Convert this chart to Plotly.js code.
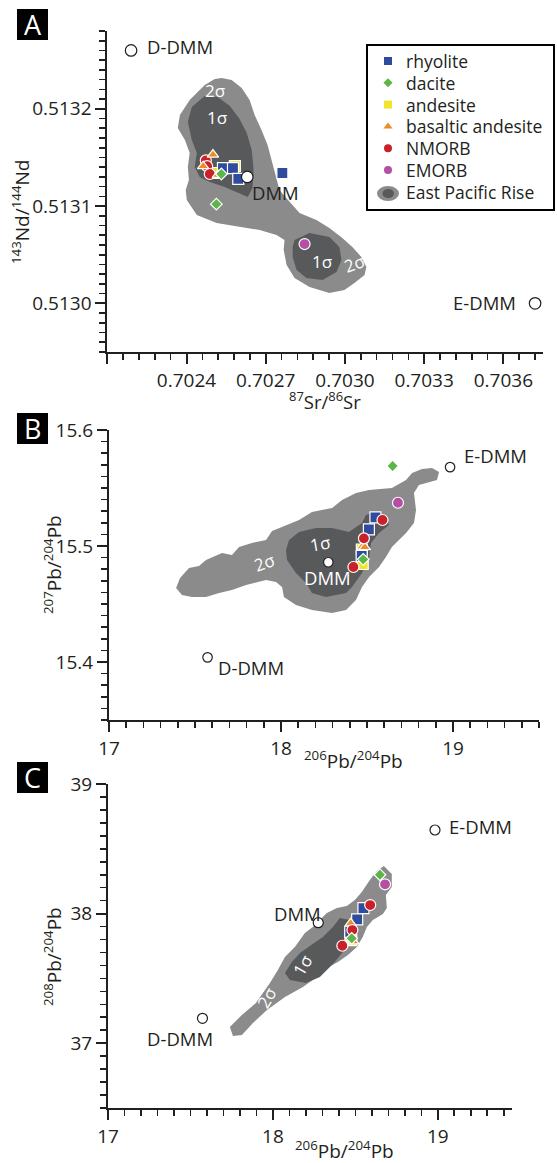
<!DOCTYPE html>
<html>
<head>
<meta charset="utf-8">
<script src="https://cdn.plot.ly/plotly-3.0.1.min.js"></script>
<style>
html, body { margin: 0; padding: 0; background: #fff; }
#chart { width: 557px; height: 1163px; }
</style>
</head>
<body>
<div id="chart"></div>
<script>
// ---------- sample groups ----------
const groups = ['rhyolite', 'dacite', 'andesite', 'basaltic andesite', 'NMORB', 'EMORB'];
const groupColors = ['#2f4b9d', '#5cb547', '#f0e52e', '#f08a22', '#c9202a', '#b44fa3'];
const groupSymbols = ['square', 'diamond', 'square', 'triangle-up', 'circle', 'circle'];
const groupSizes = [11, 9, 11, 10, 11, 11];

// 87Sr/86Sr and 143Nd/144Nd
const srRhyolite = [0.702763, 0.702538, 0.702576, 0.702596];
const ndRhyolite = [0.513134, 0.513139, 0.513139, 0.513128];
const srDacite = [0.702513, 0.702532];
const ndDacite = [0.513102, 0.513133];
const srAndesite = [0.702583, 0.702500];
const ndAndesite = [0.513141, 0.513134];
const srBasAndesite = [0.702500, 0.702463, 0.702519];
const ndBasAndesite = [0.513153, 0.513141, 0.513132];
const srNmorb = [0.702473, 0.702478, 0.702488];
const ndNmorb = [0.513147, 0.513141, 0.513133];
const srEmorb = [0.702847];
const ndEmorb = [0.513061];

// Pb isotopes (206Pb/204Pb, 207Pb/204Pb, 208Pb/204Pb)
const pb206Rhyolite = [18.549, 18.511, 18.469];
const pb207Rhyolite = [15.5247, 15.5144, 15.4914];
const pb208Rhyolite = [38.043, 37.956, 37.860];
const pb206Dacite = [18.649, 18.478];
const pb207Dacite = [15.569, 15.4885];
const pb208Dacite = [38.300, 37.809];
const pb206Andesite = [18.475, 18.470];
const pb207Andesite = [15.4845, 15.4970];
const pb208Andesite = [37.796, 37.830];
const pb206BasAndesite = [18.472, 18.487];
const pb207BasAndesite = [15.4994, 15.4990];
const pb208BasAndesite = [37.925, 37.785];
const pb206Nmorb = [18.590, 18.482, 18.421];
const pb207Nmorb = [15.5224, 15.5066, 15.4819];
const pb208Nmorb = [38.066, 37.873, 37.752];
const pb206Emorb = [18.680];
const pb207Emorb = [15.5373];
const pb208Emorb = [38.226];

// mantle end-members
const endMembers = ['D-DMM', 'DMM', 'E-DMM'];
const srEnd = [0.70219, 0.70263, 0.70372];
const ndEnd = [0.51326, 0.51313, 0.51300];
const pb206End = [17.573, 18.275, 18.983];
const pb207End = [15.404, 15.486, 15.568];
const pb208End = [37.192, 37.930, 38.645];

// East Pacific Rise MORB fields (2 sigma outer, 1 sigma inner)
const eprSrOuter = [0.702507, 0.702533, 0.702571, 0.702609, 0.702639, 0.702658, 0.702684, 0.702707, 0.702722, 0.702737, 0.702752, 0.702768, 0.702828, 0.702892, 0.702941, 0.70299, 0.703028, 0.703062, 0.703081, 0.703074, 0.703036, 0.702998, 0.702941, 0.702866, 0.702809, 0.702779, 0.702768, 0.702771, 0.702741, 0.702677, 0.702601, 0.702514, 0.702439, 0.702401, 0.702397, 0.702409, 0.702405, 0.702412, 0.702394, 0.702367, 0.702375, 0.702412, 0.702469];
const eprNdOuter = [0.5132307, 0.5132317, 0.5132296, 0.5132214, 0.5132091, 0.5131936, 0.5131782, 0.5131628, 0.5131474, 0.513132, 0.5131165, 0.5131114, 0.5130929, 0.5130857, 0.5130775, 0.5130672, 0.513058, 0.5130477, 0.5130374, 0.5130292, 0.5130209, 0.5130137, 0.5130107, 0.5130168, 0.5130261, 0.5130394, 0.5130549, 0.5130651, 0.5130703, 0.5130754, 0.5130785, 0.5130826, 0.5130908, 0.5131063, 0.5131165, 0.5131268, 0.5131402, 0.5131546, 0.5131679, 0.5131803, 0.5131936, 0.5132091, 0.5132245];
const eprSrInner1 = [0.702469, 0.702518, 0.702564, 0.702601, 0.702628, 0.702647, 0.702654, 0.70265, 0.702632, 0.702594, 0.702545, 0.702488, 0.70245, 0.702431, 0.702439, 0.70242, 0.702405, 0.70242];
const eprNdInner1 = [0.5132132, 0.5132122, 0.5132029, 0.5131895, 0.5131751, 0.5131577, 0.5131371, 0.5131186, 0.5131094, 0.5131135, 0.5131196, 0.5131248, 0.5131299, 0.5131402, 0.5131546, 0.5131679, 0.5131865, 0.5132019];
const eprSrInner2 = [0.702809, 0.702866, 0.702941, 0.702979, 0.702987, 0.702968, 0.702915, 0.702854, 0.702817, 0.702802, 0.702802];
const eprNdInner2 = [0.5130651, 0.5130723, 0.5130682, 0.513058, 0.5130446, 0.5130323, 0.513024, 0.5130261, 0.5130343, 0.5130477, 0.513058];

const eprPb206OuterB = [17.390, 17.413, 17.465, 17.523, 17.564, 17.657, 17.715, 17.756, 17.831, 17.913, 17.948, 18.029, 18.105, 18.180, 18.297, 18.355, 18.436, 18.512, 18.645, 18.727, 18.762, 18.820, 18.878, 18.919, 18.907, 18.802, 18.773, 18.785, 18.773, 18.727, 18.645, 18.610, 18.570, 18.512, 18.471, 18.436, 18.378, 18.297, 18.180, 18.087, 18.017, 18.006, 17.971, 17.913, 17.797, 17.715, 17.640, 17.564, 17.483, 17.424];
const eprPb207OuterB = [15.4638, 15.4724, 15.4810, 15.4828, 15.4879, 15.4940, 15.4922, 15.4991, 15.5026, 15.5052, 15.5129, 15.5181, 15.5224, 15.5293, 15.5328, 15.5397, 15.5457, 15.5483, 15.5500, 15.5569, 15.5629, 15.5664, 15.5672, 15.5638, 15.5569, 15.5526, 15.5457, 15.5310, 15.5198, 15.5112, 15.4991, 15.4905, 15.4819, 15.4733, 15.4647, 15.4534, 15.4448, 15.4422, 15.4448, 15.4491, 15.4560, 15.4647, 15.4690, 15.4707, 15.4664, 15.4621, 15.4595, 15.4560, 15.4560, 15.4578];
const eprPb206InnerB = [18.047, 18.105, 18.203, 18.297, 18.395, 18.471, 18.494, 18.552, 18.610, 18.628, 18.570, 18.523, 18.512, 18.471, 18.413, 18.378, 18.262, 18.180, 18.145, 18.087, 18.035, 18.029];
const eprPb207InnerB = [15.5052, 15.5121, 15.5155, 15.5155, 15.5121, 15.5198, 15.5267, 15.5293, 15.5267, 15.5181, 15.5112, 15.5026, 15.4905, 15.4767, 15.4647, 15.4595, 15.4560, 15.4595, 15.4681, 15.4767, 15.4879, 15.4966];

const eprPb206OuterC = [18.673, 18.721, 18.721, 18.685, 18.691, 18.667, 18.606, 18.570, 18.545, 18.509, 18.455, 18.394, 18.327, 18.267, 18.182, 18.073, 17.964, 17.879, 17.812, 17.758, 17.739, 17.812, 17.897, 17.982, 18.030, 18.073, 18.133, 18.194, 18.242, 18.327, 18.388, 18.448, 18.497, 18.539, 18.588, 18.630];
const eprPb208OuterC = [38.367, 38.306, 38.205, 38.144, 38.043, 37.997, 37.951, 37.897, 37.819, 37.742, 37.681, 37.627, 37.580, 37.511, 37.434, 37.357, 37.256, 37.156, 37.063, 37.056, 37.125, 37.218, 37.310, 37.465, 37.565, 37.665, 37.742, 37.850, 37.897, 38.005, 38.043, 38.059, 38.105, 38.167, 38.259, 38.329];
const eprPb206InnerC = [18.406, 18.467, 18.479, 18.448, 18.424, 18.370, 18.285, 18.200, 18.103, 18.073, 18.115, 18.164, 18.224, 18.303, 18.364];
const eprPb208InnerC = [37.966, 37.951, 37.835, 37.742, 37.704, 37.619, 37.511, 37.465, 37.488, 37.542, 37.627, 37.696, 37.750, 37.819, 37.897];

// ---------- drawing ----------
const W = 557, H = 1163;
const fx = p => p / W;
const fy = p => 1 - p / H;
const INK = '#231f20';
const GREY2 = '#8b8b8b';
const GREY1 = '#58595b';

const traces = [];

function field(x, y, xa, ya, color) {
  traces.push({
    type: 'scatter', mode: 'lines', x: x, y: y, xaxis: xa, yaxis: ya,
    fill: 'toself', fillcolor: color, line: { width: 0, color: color },
    showlegend: false, hoverinfo: 'skip'
  });
}

function samples(x, y, xa, ya, gi) {
  traces.push({
    type: 'scatter', mode: 'markers', x: x, y: y, xaxis: xa, yaxis: ya,
    name: groups[gi], showlegend: false, hoverinfo: 'skip',
    marker: { symbol: groupSymbols[gi], color: groupColors[gi], size: groupSizes[gi],
              line: { color: '#ffffff', width: 1.2 } }
  });
}

function ends(x, y, xa, ya, size) {
  traces.push({
    type: 'scatter', mode: 'markers', x: x, y: y, xaxis: xa, yaxis: ya,
    showlegend: false, hoverinfo: 'skip',
    marker: { symbol: 'circle', color: '#ffffff', size: size, line: { color: INK, width: 1.2 } }
  });
}

// Panel A
field(eprSrOuter, eprNdOuter, 'x', 'y', GREY2);
field(eprSrInner1, eprNdInner1, 'x', 'y', GREY1);
field(eprSrInner2, eprNdInner2, 'x', 'y', GREY1);
samples(srAndesite, ndAndesite, 'x', 'y', 2);
samples(srRhyolite, ndRhyolite, 'x', 'y', 0);
samples(srNmorb, ndNmorb, 'x', 'y', 4);
samples(srBasAndesite, ndBasAndesite, 'x', 'y', 3);
samples(srDacite, ndDacite, 'x', 'y', 1);
samples(srEmorb, ndEmorb, 'x', 'y', 5);
ends(srEnd, ndEnd, 'x', 'y', 11.5);

// Panel B
field(eprPb206OuterB, eprPb207OuterB, 'x2', 'y2', GREY2);
field(eprPb206InnerB, eprPb207InnerB, 'x2', 'y2', GREY1);
samples(pb206Andesite, pb207Andesite, 'x2', 'y2', 2);
samples(pb206Rhyolite, pb207Rhyolite, 'x2', 'y2', 0);
samples(pb206BasAndesite, pb207BasAndesite, 'x2', 'y2', 3);
samples(pb206Nmorb, pb207Nmorb, 'x2', 'y2', 4);
samples(pb206Dacite, pb207Dacite, 'x2', 'y2', 1);
samples(pb206Emorb, pb207Emorb, 'x2', 'y2', 5);
ends(pb206End, pb207End, 'x2', 'y2', 9.5);

// Panel C
field(eprPb206OuterC, eprPb208OuterC, 'x3', 'y3', GREY2);
field(eprPb206InnerC, eprPb208InnerC, 'x3', 'y3', GREY1);
samples(pb206Andesite, pb208Andesite, 'x3', 'y3', 2);
samples(pb206Rhyolite, pb208Rhyolite, 'x3', 'y3', 0);
samples(pb206BasAndesite, pb208BasAndesite, 'x3', 'y3', 3);
samples(pb206Nmorb, pb208Nmorb, 'x3', 'y3', 4);
samples(pb206Dacite, pb208Dacite, 'x3', 'y3', 1);
samples(pb206Emorb, pb208Emorb, 'x3', 'y3', 5);
ends(pb206End, pb208End, 'x3', 'y3', 10);

// Legend keys, drawn on a pixel-scaled overlay axis pair
const legendKeyX = 388, legendRow0 = 61, legendRowGap = 21.8, legendTextX = 404;
groups.forEach((g, i) => {
  traces.push({
    type: 'scatter', mode: 'markers', x: [legendKeyX], y: [legendRow0 + i * legendRowGap],
    xaxis: 'x4', yaxis: 'y4', showlegend: false, hoverinfo: 'skip', cliponaxis: false,
    marker: { symbol: groupSymbols[i], color: groupColors[i], size: groupSymbols[i] === 'diamond' ? 7 : 8, line: { width: 0 } }
  });
});

function axis(domain, range, tickvals, ticktext, minorTick0, minorDtick, anchor) {
  return {
    domain: domain, range: range, anchor: anchor, autorange: false, fixedrange: true,
    showline: true, linecolor: INK, linewidth: 2, mirror: false,
    showgrid: false, zeroline: false,
    ticks: 'outside', ticklen: 10, tickwidth: 2, tickcolor: INK,
    tickvals: tickvals, ticktext: ticktext,
    tickfont: { family: 'Open Sans', size: 19, color: INK },
    minor: { ticks: 'outside', ticklen: 6, tickwidth: 1.6, tickcolor: INK,
             tick0: minorTick0, dtick: minorDtick, showgrid: false }
  };
}

const layout = {
  width: W, height: H,
  margin: { l: 0, r: 0, t: 0, b: 0, pad: 0 },
  paper_bgcolor: '#ffffff', plot_bgcolor: 'rgba(0,0,0,0)',
  font: { family: 'Open Sans', color: INK },
  showlegend: false,
  xaxis: axis([fx(107.3), fx(543)], [0.7021, 0.70375],
    [0.7021, 0.7024, 0.7027, 0.7030, 0.7033, 0.7036], ['', '0.7024', '0.7027', '0.7030', '0.7033', '0.7036'],
    0.7021, 0.00006, 'y'),
  yaxis: axis([fy(352), fy(31)], [0.51295, 0.51328],
    [0.5130, 0.5131, 0.5132], ['0.5130', '0.5131', '0.5132'], 0.5130, 0.00001, 'x'),
  xaxis2: axis([fx(109), fx(539)], [17, 19.5], [17, 18, 19], ['17', '18', '19'], 17, 0.1, 'y2'),
  yaxis2: axis([fy(720), fy(430)], [15.35, 15.6], [15.4, 15.5, 15.6], ['15.4', '15.5', '15.6'], 15.35, 0.01, 'x2'),
  xaxis3: axis([fx(108), fx(512)], [17, 19.45], [17, 18, 19], ['17', '18', '19'], 17, 0.1, 'y3'),
  yaxis3: axis([fy(1108), fy(784)], [36.5, 39], [37, 38, 39], ['37', '38', '39'], 36.5, 0.1, 'x3'),
  xaxis4: { domain: [0, 1], range: [0, W], visible: false, fixedrange: true, anchor: 'y4' },
  yaxis4: { domain: [0, 1], range: [H, 0], visible: false, fixedrange: true, anchor: 'x4' },
  shapes: [],
  annotations: []
};

// panel letters
[['A', 9], ['B', 413], ['C', 762]].forEach(([t, top]) => {
  layout.shapes.push({ type: 'rect', xref: 'paper', yref: 'paper', x0: fx(17), x1: fx(48), y0: fy(top + 31), y1: fy(top),
                       fillcolor: '#000000', line: { width: 0 } });
  layout.annotations.push({ text: t, xref: 'paper', yref: 'paper', x: fx(32.5), y: fy(top + 15.5),
                            xanchor: 'center', yanchor: 'middle', showarrow: false,
                            font: { size: 27, color: '#ffffff', family: 'Open Sans' } });
});

// legend frame and East Pacific Rise key
layout.shapes.push({ type: 'rect', xref: 'paper', yref: 'paper', x0: fx(367), x1: fx(554), y0: fy(210), y1: fy(45),
                     fillcolor: 'rgba(255,255,255,0)', line: { color: '#000000', width: 2 } });
layout.shapes.push({ type: 'circle', xref: 'x4', yref: 'y4', x0: 377, x1: 399, y0: 186, y1: 201,
                     fillcolor: GREY2, line: { width: 0 } });
layout.shapes.push({ type: 'circle', xref: 'x4', yref: 'y4', x0: 382.5, x1: 394, y0: 189, y1: 198,
                     fillcolor: GREY1, line: { width: 0 } });

function note(text, x, y, opt) {
  opt = opt || {};
  layout.annotations.push({
    text: text, xref: 'paper', yref: 'paper', x: fx(x), y: fy(y), showarrow: false,
    xanchor: opt.xanchor || 'center', yanchor: 'middle', textangle: opt.angle || 0,
    font: { family: 'Open Sans', size: opt.size || 18, color: opt.color || INK }
  });
}

groups.forEach((g, i) => note(g, legendTextX, legendRow0 + i * legendRowGap, { xanchor: 'left', size: 17.5 }));
note('East Pacific Rise', legendTextX, 192, { xanchor: 'left', size: 17.5 });

// axis titles
note('<sup>87</sup>Sr/<sup>86</sup>Sr', 325, 401, { size: 18.5 });
note('<sup>143</sup>Nd/<sup>144</sup>Nd', 21, 212, { size: 19, angle: -90 });
note('<sup>206</sup>Pb/<sup>204</sup>Pb', 353, 760, { size: 19 });
note('<sup>207</sup>Pb/<sup>204</sup>Pb', 53, 565, { size: 19, angle: -90 });
note('<sup>206</sup>Pb/<sup>204</sup>Pb', 344, 1150, { size: 19 });
note('<sup>208</sup>Pb/<sup>204</sup>Pb', 53, 957, { size: 19, angle: -90 });

// end-member labels
note(endMembers[0], 145, 47, { xanchor: 'left', size: 18.5 });
note(endMembers[1], 250, 192, { xanchor: 'left', size: 18.5 });
note(endMembers[2], 518, 302, { xanchor: 'right', size: 18.5 });
note(endMembers[2], 462, 455, { xanchor: 'left', size: 18.5 });
note(endMembers[0], 216, 668, { xanchor: 'left', size: 18.5 });
note(endMembers[1], 327.5, 577, { size: 18.5, color: '#ffffff' });
note(endMembers[2], 447, 826, { xanchor: 'left', size: 18.5 });
note(endMembers[1], 297.5, 913, { size: 18.5 });
note(endMembers[0], 180, 1038, { size: 18.5 });

// sigma labels
const W1 = '#ffffff';
note('2σ', 215, 90, { size: 17, color: W1 });
note('1σ', 217, 117, { size: 17, color: W1 });
note('1σ', 322, 261, { size: 17, color: W1 });
note('2σ', 354, 263, { size: 17, color: W1, angle: -20 });
note('1σ', 320, 543, { size: 17, color: W1, angle: -10 });
note('2σ', 264, 562, { size: 17, color: W1, angle: -20 });
note('1σ', 302, 965, { size: 17, color: W1, angle: -60 });
note('2σ', 267, 998, { size: 17, color: W1, angle: -60 });

Plotly.newPlot('chart', traces, layout, { staticPlot: true, displayModeBar: false });
</script>
</body>
</html>
